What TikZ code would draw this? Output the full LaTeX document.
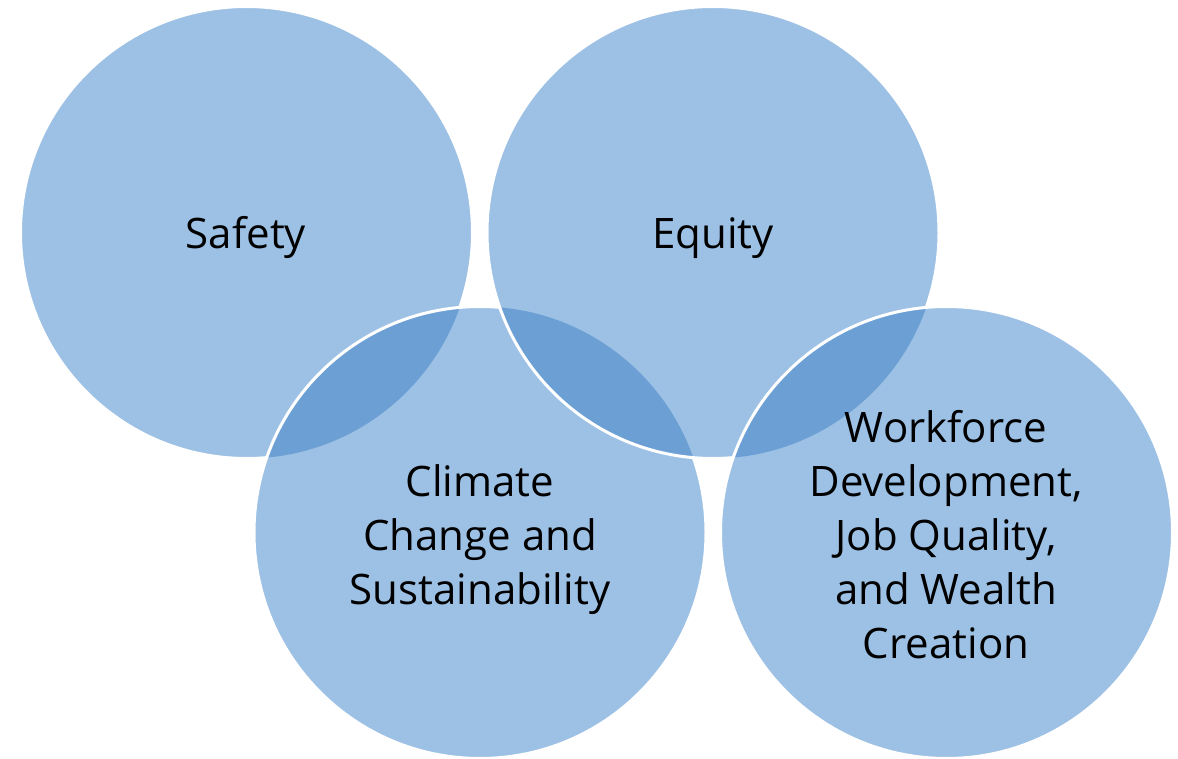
\documentclass[tikz,border=0pt]{standalone}
\usepackage{fontspec}
\setmainfont{Open Sans}
\definecolor{vlight}{RGB}{157,193,229}
\definecolor{vdark}{RGB}{108,160,213}
\begin{document}
\begin{tikzpicture}[x=1pt,y=-1pt,
  disc/.style={fill=vlight},
  lens/.style={fill=vdark},
  rim/.style={draw=white,line width=3pt},
  lbl/.style={font=\fontsize{42}{54}\selectfont,align=center,inner sep=0pt,anchor=base,text=black}]
\useasboundingbox (0,0) rectangle (1178,759);
\def\R{226}
\coordinate (cS) at (246.5,232.5);
\coordinate (cE) at (713,232.5);
\coordinate (cC) at (480,532.5);
\coordinate (cW) at (946.5,532.5);
% Safety
\path[disc] (cS) circle[radius=\R];
\path[rim] (cS) circle[radius=\R];
% Climate
\path[disc] (cC) circle[radius=\R];
\begin{scope}
  \clip (cS) circle[radius=\R];
  \path[lens] (cC) circle[radius=\R];
\end{scope}
\path[rim] (cC) circle[radius=\R];
% Equity
\path[disc] (cE) circle[radius=\R];
\begin{scope}
  \clip (cC) circle[radius=\R];
  \path[lens] (cE) circle[radius=\R];
\end{scope}
\path[rim] (cE) circle[radius=\R];
% Workforce
\path[disc] (cW) circle[radius=\R];
\begin{scope}
  \clip (cE) circle[radius=\R];
  \path[lens] (cW) circle[radius=\R];
\end{scope}
\path[rim] (cW) circle[radius=\R];
% labels
\node[lbl] (safety) at (246,249) {Safety};
\node[lbl] (equity) at (713,249) {Equity};
\node[lbl] (climate) at (480,604) {Climate\\Change and\\Sustainability};
\node[lbl] (workforce) at (946,658) {Workforce\\Development,\\Job Quality,\\and Wealth\\Creation};
\end{tikzpicture}
\end{document}
